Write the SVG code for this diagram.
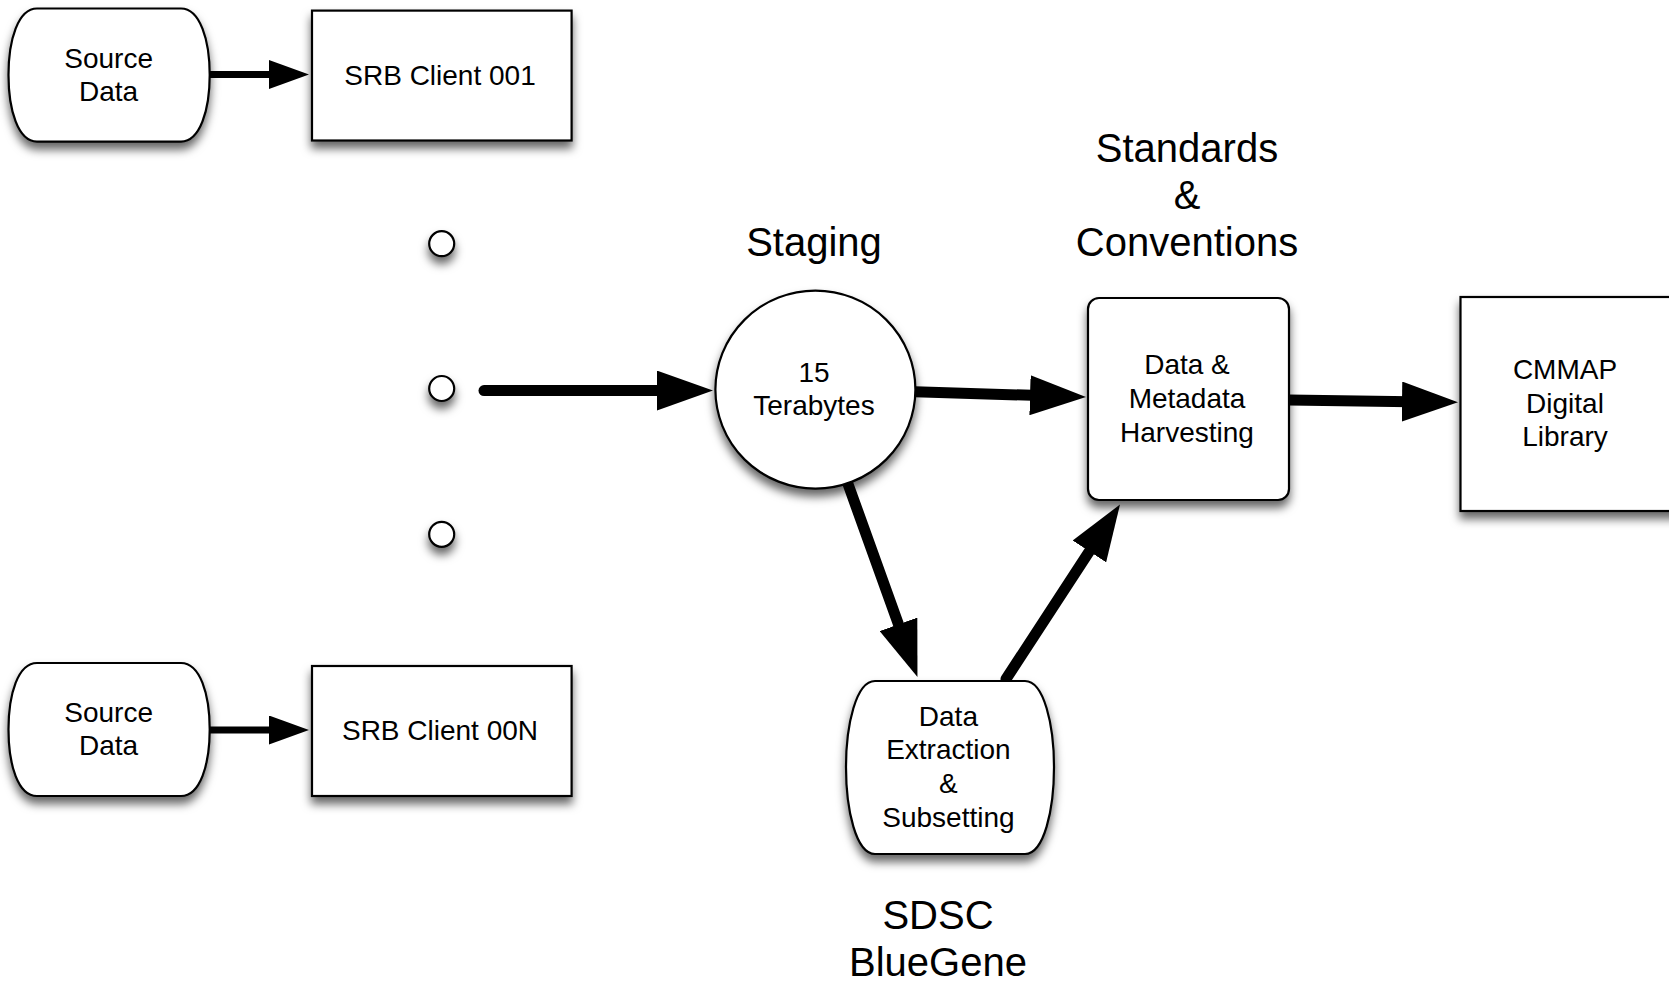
<svg xmlns="http://www.w3.org/2000/svg" width="1669" height="982" viewBox="0 0 1669 982">
<style>
.node{fill:#fff;stroke:#000;stroke-width:2.2}
.t{font-family:"Liberation Sans",Arial,sans-serif;font-size:28px;fill:#000;text-anchor:middle}
.big{font-family:"Liberation Sans",Arial,sans-serif;font-size:40px;fill:#000;text-anchor:middle}
.edge{fill:none;stroke:#000;stroke-linecap:round}
.e1{stroke-width:11;marker-end:url(#ah)}
.e2{stroke-width:7;marker-end:url(#as)}
</style>
<defs>
<filter id="sh" x="-60%" y="-60%" width="220%" height="260%">
<feDropShadow dx="0" dy="7" stdDeviation="5" flood-color="#000" flood-opacity="0.6"/>
</filter>
<marker id="ah" markerUnits="userSpaceOnUse" markerWidth="56" markerHeight="40" viewBox="0 0 56 40" refX="26" refY="20" orient="auto">
<path d="M0,0 L56,20 L0,40 Z" fill="#000"/>
</marker>
<marker id="as" markerUnits="userSpaceOnUse" markerWidth="40" markerHeight="29" viewBox="0 0 40 29" refX="20" refY="14.5" orient="auto">
<path d="M0,0 L40,14.5 L0,29 Z" fill="#000"/>
</marker>
</defs>
<rect width="1669" height="982" fill="#fff"/>

<g id="edges">
<line class="edge e2" x1="210" y1="74.5" x2="289" y2="74.5"/>
<line class="edge e2" x1="210" y1="730" x2="289" y2="730"/>
<line class="edge e1" x1="484" y1="390.6" x2="683" y2="390.6"/>
<line class="edge e1" x1="915" y1="391.7" x2="1056" y2="396.1"/>
<line class="edge e1" x1="1289" y1="400" x2="1428" y2="401.9"/>
<line class="edge e1" x1="848" y1="484" x2="907.3" y2="648.8"/>
<line class="edge e1" x1="1006" y1="679" x2="1103.6" y2="529.6"/>
</g>

<g id="source1" filter="url(#sh)">
<path class="node" d="M37,8.5 H181 C200,8.5 209.7,40 209.7,75 C209.7,110 200,141.6 181,141.6 H37 C18,141.6 8.5,110 8.5,75 C8.5,40 18,8.5 37,8.5 Z"/>
</g>
<g id="source1-label"><text class="t" x="108.6" y="67.5">Source</text><text class="t" x="108.6" y="100.5">Data</text></g>

<g id="srb001" filter="url(#sh)"><rect class="node" x="312" y="10.6" width="259.6" height="129.9"/></g>
<g id="srb001-label"><text class="t" x="440" y="84.5">SRB Client 001</text></g>

<g id="source2" filter="url(#sh)">
<path class="node" d="M37,663 H181 C200,663 209.7,694 209.7,729.5 C209.7,765 200,796 181,796 H37 C18,796 8.5,765 8.5,729.5 C8.5,694 18,663 37,663 Z"/>
</g>
<g id="source2-label"><text class="t" x="108.6" y="722">Source</text><text class="t" x="108.6" y="755">Data</text></g>

<g id="srb00n" filter="url(#sh)"><rect class="node" x="312" y="666" width="259.6" height="130"/></g>
<g id="srb00n-label"><text class="t" x="440" y="740">SRB Client 00N</text></g>

<g id="dot1" filter="url(#sh)"><circle class="node" cx="441.7" cy="243.7" r="12.5"/></g>
<g id="dot2" filter="url(#sh)"><circle class="node" cx="441.7" cy="388.5" r="12.5"/></g>
<g id="dot3" filter="url(#sh)"><circle class="node" cx="441.7" cy="534.3" r="12.5"/></g>

<g id="staging" filter="url(#sh)"><ellipse class="node" cx="815.4" cy="389.6" rx="100" ry="99"/></g>
<g id="staging-label">
<text class="t" x="814" y="381.5">15</text><text class="t" x="814" y="414.5">Terabytes</text>
<text class="big" x="814" y="256">Staging</text>
</g>

<g id="harvest" filter="url(#sh)"><rect class="node" x="1088" y="298" width="201" height="202" rx="11"/></g>
<g id="harvest-label">
<text class="t" x="1187" y="374">Data &amp;</text><text class="t" x="1187" y="408">Metadata</text><text class="t" x="1187" y="442">Harvesting</text>
<text class="big" x="1187" y="162">Standards</text><text class="big" x="1187" y="209">&amp;</text><text class="big" x="1187" y="256">Conventions</text>
</g>

<g id="cmmap" filter="url(#sh)"><rect class="node" x="1460.5" y="297" width="240" height="214"/></g>
<g id="cmmap-label"><text class="t" x="1565" y="379">CMMAP</text><text class="t" x="1565" y="413">Digital</text><text class="t" x="1565" y="446">Library</text></g>

<g id="extract" filter="url(#sh)">
<path class="node" d="M875,681 H1025 C1044,681 1054,725 1054,767 C1054,810 1044,854 1025,854 H875 C856,854 846,810 846,767 C846,725 856,681 875,681 Z"/>
</g>
<g id="extract-label">
<text class="t" x="948.4" y="726">Data</text><text class="t" x="948.4" y="759">Extraction</text><text class="t" x="948.4" y="793">&amp;</text><text class="t" x="948.4" y="826.5">Subsetting</text>
<text class="big" x="938" y="929">SDSC</text><text class="big" x="938" y="976">BlueGene</text>
</g>
</svg>
